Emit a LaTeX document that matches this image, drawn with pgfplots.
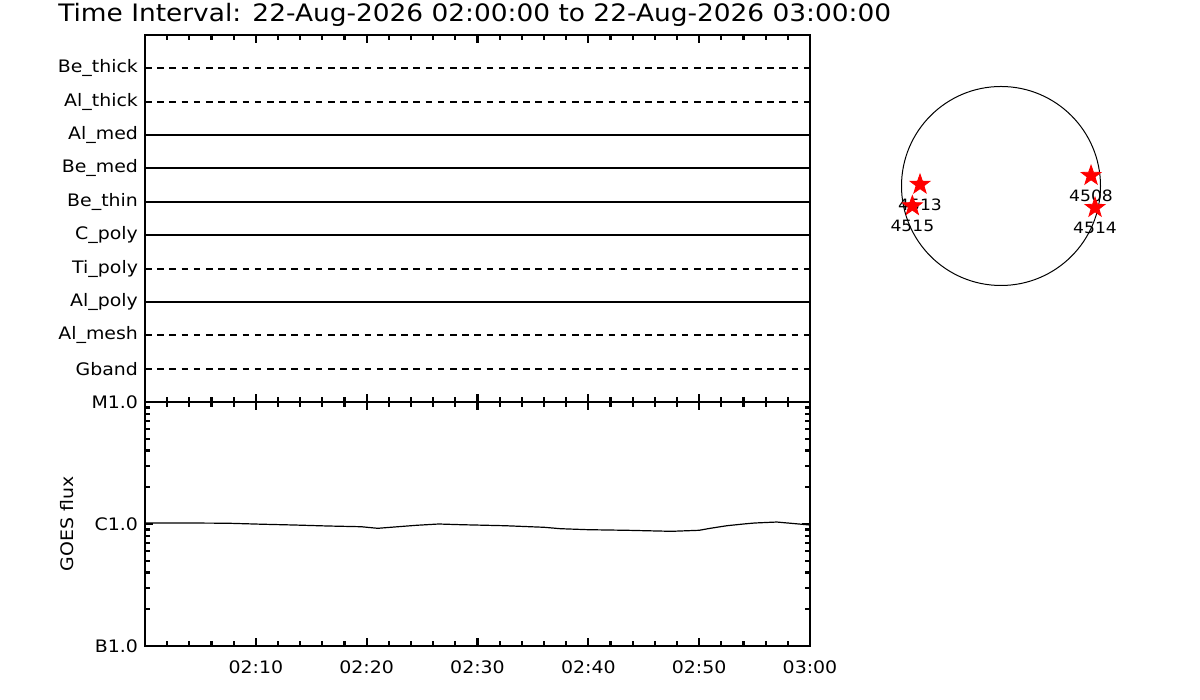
\documentclass[border=0pt]{standalone}
\usepackage{fontspec}
\setmainfont{DejaVu Sans}[FakeStretch=1.1]
\usepackage{pgfplots}
\pgfplotsset{compat=1.18}

% filled five-point star
\pgfdeclareplotmark{fstar}{%
  \pgfpathmoveto{\pgfpointpolar{90}{\pgfplotmarksize}}%
  \pgfpathlineto{\pgfpointpolar{126}{0.4\pgfplotmarksize}}%
  \pgfpathlineto{\pgfpointpolar{162}{\pgfplotmarksize}}%
  \pgfpathlineto{\pgfpointpolar{198}{0.4\pgfplotmarksize}}%
  \pgfpathlineto{\pgfpointpolar{234}{\pgfplotmarksize}}%
  \pgfpathlineto{\pgfpointpolar{270}{0.4\pgfplotmarksize}}%
  \pgfpathlineto{\pgfpointpolar{306}{\pgfplotmarksize}}%
  \pgfpathlineto{\pgfpointpolar{342}{0.4\pgfplotmarksize}}%
  \pgfpathlineto{\pgfpointpolar{18}{\pgfplotmarksize}}%
  \pgfpathlineto{\pgfpointpolar{54}{0.4\pgfplotmarksize}}%
  \pgfpathclose
  \pgfusepathqfillstroke
}

\pgfplotsset{
  panel/.style={
    scale only axis,
    tick align=inside,
    major tick length=4pt,
    minor tick length=2.6pt,
    axis line style={line width=1.2pt},
    every tick/.style={black, line width=1.1pt},
    tick label style={font=\fontsize{8.6}{10}\selectfont},
    label style={font=\fontsize{8.6}{10}\selectfont},
    xmin=0, xmax=60,
    xtick={0,10,...,60},
    minor x tick num=4,
  },
  dashed line/.style={black, line width=1pt, dash pattern=on 3.3pt off 2.8pt},
  solid line/.style={black, line width=1pt},
}

\begin{document}
\begin{tikzpicture}
\useasboundingbox (0pt,0pt) rectangle (600pt,350pt);

% filter / channel panel
\begin{axis}[panel,
  at={(72.5pt,149pt)}, anchor=south west,
  width=332.5pt, height=183.5pt,
  ymin=0, ymax=11,
  xticklabels={},
  ytick={1,...,10},
  yticklabels={Gband,Al\_mesh,Al\_poly,Ti\_poly,C\_poly,Be\_thin,Be\_med,Al\_med,Al\_thick,Be\_thick},
  ytick style={draw=none},
  title={Time Interval: 22-Aug-2026 02:00:00 to 22-Aug-2026 03:00:00},
  title style={at={(axis description cs:-0.131,1.0545)}, anchor=west,
    yshift=-6pt, inner sep=0pt, font=\fontsize{12}{14}\selectfont},
]
\addplot[dashed line] coordinates {(0,10) (60,10)};
\addplot[dashed line] coordinates {(0,9) (60,9)};
\addplot[solid line]  coordinates {(0,8) (60,8)};
\addplot[solid line]  coordinates {(0,7) (60,7)};
\addplot[solid line]  coordinates {(0,6) (60,6)};
\addplot[solid line]  coordinates {(0,5) (60,5)};
\addplot[dashed line] coordinates {(0,4) (60,4)};
\addplot[solid line]  coordinates {(0,3) (60,3)};
\addplot[dashed line] coordinates {(0,2) (60,2)};
\addplot[dashed line] coordinates {(0,1) (60,1)};
\end{axis}

% GOES flux panel
\begin{axis}[panel,
  at={(72.5pt,27pt)}, anchor=south west,
  width=332.5pt, height=122pt,
  ymode=log, ymin=1e-7, ymax=1e-5,
  xticklabels={,02:10,02:20,02:30,02:40,02:50,03:00},
  xticklabel style={yshift=-4pt},
  ytick={1e-7,1e-6,1e-5},
  yticklabels={B1.0,C1.0,M1.0},
  minor ytick={2e-7,3e-7,4e-7,5e-7,6e-7,7e-7,8e-7,9e-7,2e-6,3e-6,4e-6,5e-6,6e-6,7e-6,8e-6,9e-6},
  ylabel={GOES flux},
  ylabel style={at={(axis description cs:-0.117,0.5)}, anchor=center},
]
\addplot[black, line width=0.6pt] coordinates {
(0,1.019e-6) (3.7,1.019e-6) (7.4,1.015e-6) (10.5,0.996e-6) (13.5,0.981e-6)
(16.5,0.963e-6) (19.5,0.950e-6) (21,0.922e-6) (22.5,0.945e-6) (24.5,0.976e-6)
(26.5,1.000e-6) (28.5,0.987e-6) (32.5,0.968e-6) (36,0.940e-6) (37.5,0.915e-6)
(40,0.898e-6) (43.5,0.888e-6) (47.5,0.871e-6) (50,0.888e-6) (51,0.922e-6)
(52.5,0.968e-6) (54,1.000e-6) (55,1.019e-6) (57,1.038e-6) (59,1.000e-6)
(60,0.981e-6)
};
\end{axis}

% solar disk with active regions
\begin{axis}[
  at={(500.5pt,257pt)}, anchor=center,
  scale only axis, width=99.5pt, height=99.5pt,
  xmin=-1, xmax=1, ymin=-1, ymax=1,
  hide axis, clip=false,
]
\draw[black, line width=0.5pt] (axis cs:0,0) ellipse [x radius=1, y radius=1];
\addplot[only marks, mark=fstar, mark size=5.2pt, mark options={draw=red, fill=red},
  point meta=explicit symbolic, nodes near coords,
  every node near coord/.style={black, anchor=center, yshift=-10pt,
    font=\fontsize{7.8}{9}\selectfont}]
  coordinates {
  (-0.814,0.015) [4513]
  (-0.891,-0.201) [4515]
  (0.905,0.104) [4508]
  (0.945,-0.218) [4514]
};
\end{axis}
\end{tikzpicture}
\end{document}
